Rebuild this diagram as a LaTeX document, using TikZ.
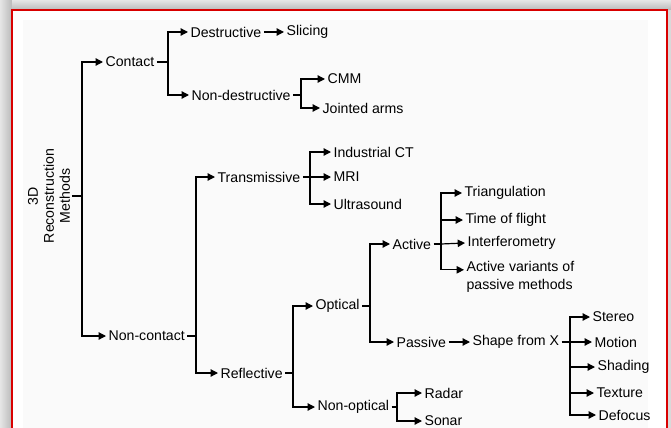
\documentclass[tikz,border=0pt]{standalone}
\usepackage{fontspec}
\setmainfont{Liberation Sans}
\usetikzlibrary{arrows.meta}

\begin{document}
\begin{tikzpicture}[x=0.75pt, y=-0.75pt, >={Triangle[length=5.5pt,width=5.5pt]},
   line width=0.9pt,
   item/.style={anchor=west, inner xsep=1.5pt, inner ysep=0pt, font=\fontsize{10.6}{13}\selectfont},
   frame/.style={draw=red!85!black, line width=1.6pt}]
   % page, shadow and frame
   \useasboundingbox (0,0) rectangle (671,428);
   \fill[gray!30] (0,0) rectangle (671,428);
   \shade[left color=gray!20, right color=gray!55] (0,0) rectangle (12,428);
   \shade[top color=gray!20, bottom color=gray!55] (12,0) rectangle (671,10);
   \fill[white] (12,10) rectangle (667,430);
   \fill[gray!4] (23,20) rectangle (648,430);
   \draw[frame] (12,432) -- (12,10) -- (667,10) -- (667,432);

   % root
   \node (root) at (49,196) [rotate=90, align=center, inner sep=1pt,
      font=\fontsize{10.6}{12}\selectfont] {3D\\Reconstruction\\Methods};
   \coordinate (jroot) at (82,196);
   % first level
   \node (contact) at (103,62) [item] {Contact};
   \node (noncont) at (106,336) [item] {Non-contact};
   % contact branch
   \node (destr) at (188,32) [item] {Destructive};
   \node (slicing) at (284,32) [item] {Slicing};
   \node (nondestr) at (189,95) [item] {Non-destructive};
   \node (cmm) at (325,79) [item] {CMM};
   \node (jointed) at (320,108) [item] {Jointed arms};
   % non-contact branch
   \node (transm) at (215,177) [item] {Transmissive};
   \node (indct) at (331,152) [item] {Industrial CT};
   \node (mri) at (331,177) [item] {MRI};
   \node (ultra) at (331,204) [item] {Ultrasound};
   \node (reflect) at (218,373) [item] {Reflective};
   \node (optical) at (313,306) [item] {Optical};
   \node (nonopt) at (315,407) [item] {Non-optical};
   \node (radar) at (422,393) [item] {Radar};
   \node (sonar) at (422,421) [item] {Sonar};
   % optical branch
   \node (active) at (390,244) [item] {Active};
   \node (passive) at (394,342) [item] {Passive};
   \node (shapex) at (470,342) [item] {Shape from X};
   \node (triang) at (462,193) [item] {Triangulation};
   \node (tof) at (463,220) [item] {Time of flight};
   \node (interf) at (465,243) [item] {Interferometry};
   \node (actvar) at (464,277) [item, align=left] {Active variants of\\passive methods};
   \node (stereo) at (590,317) [item] {Stereo};
   \node (motion) at (592,342) [item] {Motion};
   \node (shading) at (595,367) [item] {Shading};
   \node (texture) at (594,393) [item] {Texture};
   \node (defocus) at (596,415) [item] {Defocus};

   % junctions
   \coordinate (jcontact) at (168,62);
   \coordinate (jnondestr) at (301,95);
   \coordinate (jnoncont) at (196,336);
   \coordinate (jtransm) at (310,177);
   \coordinate (jreflect) at (293,373);
   \coordinate (joptical) at (370,306);
   \coordinate (jnonopt) at (397,407);
   \coordinate (jactive) at (441,244);
   \coordinate (jshapex) at (570,342);

   % connectors
   \draw (root) -- (jroot);
   \draw[->] (jroot) |- (contact.west);
   \draw[->] (jroot) |- (noncont.west);
   \draw (contact) -- (jcontact);
   \draw[->] (jcontact) |- (destr.west);
   \draw[->] (jcontact) |- (nondestr.west);
   \draw[->] (destr) -- (slicing);
   \draw (nondestr) -- (jnondestr);
   \draw[->] (jnondestr) |- (cmm.west);
   \draw[->] (jnondestr) |- (jointed.west);
   \draw (noncont) -- (jnoncont);
   \draw[->] (jnoncont) |- (transm.west);
   \draw[->] (jnoncont) |- (reflect.west);
   \draw (transm) -- (jtransm);
   \draw[->] (jtransm) |- (indct.west);
   \draw[->] (jtransm) -- (mri.west);
   \draw[->] (jtransm) |- (ultra.west);
   \draw (reflect) -- (jreflect);
   \draw[->] (jreflect) |- (optical.west);
   \draw[->] (jreflect) |- (nonopt.west);
   \draw (nonopt) -- (jnonopt);
   \draw[->] (jnonopt) |- (radar.west);
   \draw[->] (jnonopt) |- (sonar.west);
   \draw (optical) -- (joptical);
   \draw[->] (joptical) |- (active.west);
   \draw[->] (joptical) |- (passive.west);
   \draw (active) -- (jactive);
   \draw[->] (jactive) |- (triang.west);
   \draw[->] (jactive) |- (tof.west);
   \draw[->] (jactive) -- (interf.west);
   \draw[->] (jactive) |- ([yshift=-6.5pt]actvar.north west);
   \draw[->] (passive) -- (shapex);
   \draw (shapex) -- (jshapex);
   \draw[->] (jshapex) |- (stereo.west);
   \draw[->] (jshapex) -- (motion.west);
   \draw[->] (jshapex) |- (shading.west);
   \draw[->] (jshapex) |- (texture.west);
   \draw[->] (jshapex) |- (defocus.west);
\end{tikzpicture}
\end{document}
